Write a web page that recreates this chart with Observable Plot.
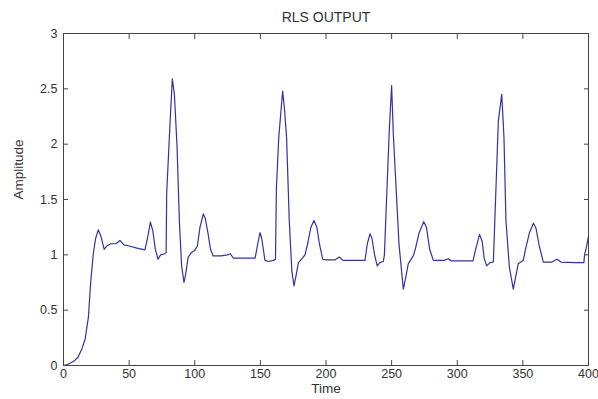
<!DOCTYPE html>
<html><head><meta charset="utf-8">
<script src="https://cdn.jsdelivr.net/npm/d3@7"></script>
<script src="https://cdn.jsdelivr.net/npm/@observablehq/plot@0.6"></script>
<style>body{margin:0;background:#fff} svg{display:block}</style>
</head><body><div id="chart"></div>
<script>
const title = "RLS OUTPUT";
const xLabel = "Time";
const yLabel = "Amplitude";
const xTicks = [0, 50, 100, 150, 200, 250, 300, 350, 400];
const yTicks = [0, 0.5, 1, 1.5, 2, 2.5, 3];

const time = [
  0, 2, 5, 8, 11, 14, 16.5, 19, 20.7, 22.7, 24.5, 26.5, 28.5, 31, 33, 36, 40, 43, 46, 50, 56, 62, 64, 66.2, 68, 70, 72, 74, 77,
  78.2, 78.6, 81, 82.9, 84.5, 86.5, 88.3, 90, 91.8, 93, 95, 97.5, 100, 102, 104, 106.5, 108, 110, 112, 114, 120, 125, 127, 129.5,
  140, 146, 148, 149.7, 151, 153.5, 156, 160, 161.5, 162.2, 164, 167, 168.5, 170, 172, 174, 175.6, 177, 179, 182, 184, 186,
  188.5, 190.8, 193, 195, 197.5, 200, 207, 210, 213, 220, 229.7, 231.5, 233.5, 235, 237, 239, 241, 243.7, 244.5, 246.2, 248.2,
  250, 251.3, 253.9, 255.6, 258.9, 260.5, 262.7, 266.5, 268, 271, 274.5, 276.5, 279, 281.8, 290, 293.2, 295.5, 305, 312, 314,
  317, 319, 320.5, 322.4, 325, 327.5, 328.8, 331.3, 333.9, 335.6, 337.1, 339.7, 342.7, 344.5, 346.5, 350.3, 352, 355, 358, 360,
  362.5, 365.6, 372, 376, 379, 390, 396.5, 397, 398.6, 400
];
const amplitude = [
  0, 0.005, 0.02, 0.04, 0.075, 0.15, 0.24, 0.44, 0.75, 1.01, 1.15, 1.225, 1.17, 1.05, 1.08, 1.10, 1.10, 1.13, 1.09, 1.08, 1.06, 1.045, 1.15, 1.295, 1.22, 1.05, 0.96, 1.0, 1.01,
  1.02, 1.55, 2.15, 2.59, 2.45, 1.98, 1.3, 0.9, 0.75, 0.82, 0.98, 1.02, 1.04, 1.08, 1.25, 1.37, 1.33, 1.2, 1.05, 0.99, 0.99, 1.0, 1.01, 0.97,
  0.97, 0.97, 1.1, 1.20, 1.15, 0.95, 0.94, 0.95, 0.96, 1.6, 2.06, 2.48, 2.3, 2.05, 1.31, 0.85, 0.72, 0.8, 0.93, 0.97, 1.0, 1.1,
  1.25, 1.31, 1.25, 1.1, 0.96, 0.955, 0.955, 0.98, 0.95, 0.95, 0.95, 1.1, 1.19, 1.15, 1.0, 0.90, 0.93, 0.94, 1.0, 1.52, 2.12,
  2.53, 2.09, 1.49, 1.10, 0.69, 0.78, 0.92, 0.99, 1.05, 1.2, 1.3, 1.25, 1.05, 0.95, 0.95, 0.965, 0.945, 0.945, 0.945, 1.05,
  1.185, 1.12, 0.97, 0.90, 0.93, 0.935, 1.37, 2.21, 2.45, 2.06, 1.31, 0.89, 0.69, 0.8, 0.92, 0.95, 1.05, 1.2, 1.285, 1.24,
  1.08, 0.935, 0.935, 0.96, 0.935, 0.93, 0.93, 1.0, 1.08, 1.17
];

const data = time.map((t, i) => ({t, v: amplitude[i]}));
const fmt = d => String(d);

const chart = Plot.plot({
  width: 598,
  height: 399,
  marginLeft: 63,
  marginRight: 10,
  marginTop: 33,
  marginBottom: 34,
  style: {fontFamily: "'Liberation Sans', Arial, sans-serif", fontSize: "12.5px", color: "#333", background: "#fff", overflow: "visible"},
  x: {domain: [0, 400]},
  y: {domain: [0, 3]},
  marks: [
    Plot.line(data, {x: "t", y: "v", stroke: "#3232a4", strokeWidth: 1.2}),
    Plot.frame({stroke: "#444"}),
    Plot.axisX({ticks: xTicks, anchor: "bottom", tickSize: -5, tickPadding: 9, label: null, tickFormat: fmt, stroke: "#444"}),
    Plot.axisX({ticks: xTicks, anchor: "top", tickSize: -5, label: null, tickFormat: () => "", stroke: "#444"}),
    Plot.axisY({ticks: yTicks, anchor: "left", tickSize: -5, tickPadding: 11, label: null, tickFormat: fmt, stroke: "#444"}),
    Plot.axisY({ticks: yTicks, anchor: "right", tickSize: -5, label: null, tickFormat: () => "", stroke: "#444"}),
    Plot.text([title], {frameAnchor: "top", dy: -21, fontSize: 14, fill: "#333"}),
    Plot.text([xLabel], {frameAnchor: "bottom", dy: 27, fontSize: 13.5, fill: "#333"}),
    Plot.text([yLabel], {frameAnchor: "left", dx: -45, rotate: -90, fontSize: 13.5, fill: "#333"})
  ]
});
document.getElementById("chart").append(chart);
</script>
</body></html>
